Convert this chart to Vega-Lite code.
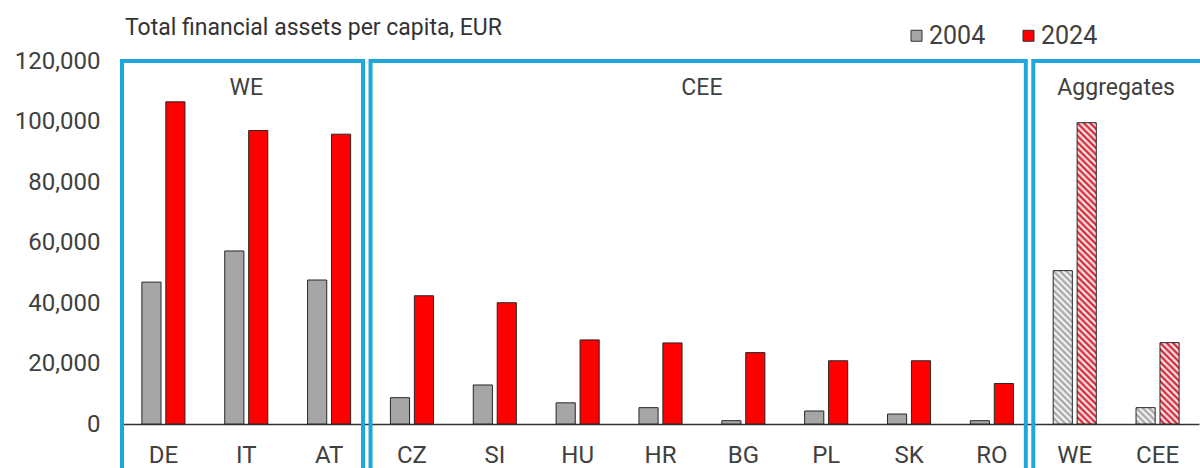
{
  "$schema": "https://vega.github.io/schema/vega-lite/v6.json",
  "width": 1077,
  "height": 363,
  "autosize": {"type": "none"},
  "padding": {"left": 122, "top": 61, "right": 1, "bottom": 44},
  "background": "white",
  "config": {"font": "Roboto", "view": {"stroke": null}},
  "title": {"text": "Total financial assets per capita, EUR", "anchor": "start", "frame": "group", "fontSize": 23, "fontWeight": "normal", "color": "#333333", "offset": 22, "dx": 3, "dy": 39},
  "datasets": {
    "bars": [
      {"cat": "DE", "year": "2004", "value": 46900}, {"cat": "DE", "year": "2024", "value": 106500},
      {"cat": "IT", "year": "2004", "value": 57200}, {"cat": "IT", "year": "2024", "value": 97000},
      {"cat": "AT", "year": "2004", "value": 47600}, {"cat": "AT", "year": "2024", "value": 95800},
      {"cat": "CZ", "year": "2004", "value": 8700}, {"cat": "CZ", "year": "2024", "value": 42400},
      {"cat": "SI", "year": "2004", "value": 12900}, {"cat": "SI", "year": "2024", "value": 40100},
      {"cat": "HU", "year": "2004", "value": 7000}, {"cat": "HU", "year": "2024", "value": 27800},
      {"cat": "HR", "year": "2004", "value": 5400}, {"cat": "HR", "year": "2024", "value": 26800},
      {"cat": "BG", "year": "2004", "value": 1100}, {"cat": "BG", "year": "2024", "value": 23600},
      {"cat": "PL", "year": "2004", "value": 4300}, {"cat": "PL", "year": "2024", "value": 20900},
      {"cat": "SK", "year": "2004", "value": 3300}, {"cat": "SK", "year": "2024", "value": 20900},
      {"cat": "RO", "year": "2004", "value": 1100}, {"cat": "RO", "year": "2024", "value": 13400},
      {"cat": "WE", "year": "2004", "value": 50700}, {"cat": "WE", "year": "2024", "value": 99600},
      {"cat": "CEE", "year": "2004", "value": 5400}, {"cat": "CEE", "year": "2024", "value": 26900}
    ],
    "boxes": [
      {"group": "WE", "start": 0, "end": 3, "mid": 1.5},
      {"group": "CEE", "start": 3, "end": 11, "mid": 7},
      {"group": "Aggregates", "start": 11, "end": 13.2, "mid": 12}
    ]
  },
  "layer": [
    {
      "data": {"name": "bars"},
      "encoding": {
        "x": {"field": "cat", "type": "nominal", "sort": null,
          "scale": {"domain": ["DE", "IT", "AT", "CZ", "SI", "HU", "HR", "BG", "PL", "SK", "RO", "WE", "CEE"], "paddingInner": 0.48, "paddingOuter": 0.24},
          "axis": {"title": null, "labelAngle": 0, "ticks": false, "domainColor": "#333333", "domainWidth": 1.3, "labelFontSize": 24, "labelColor": "#404040", "labelPadding": 19, "grid": false}},
        "xOffset": {"field": "year", "type": "nominal", "scale": {"domain": ["2004", "2024"], "paddingInner": 0.2, "paddingOuter": 0}},
        "y": {"field": "value", "type": "quantitative", "scale": {"domain": [0, 120000], "nice": false},
          "axis": {"title": null, "values": [0, 20000, 40000, 60000, 80000, 100000, 120000], "format": ",d", "ticks": false, "domain": false, "grid": false, "labelFontSize": 24, "labelColor": "#404040", "labelPadding": 22}}
      },
      "layer": [
        {
          "transform": [{"filter": "datum.cat !== 'WE' && datum.cat !== 'CEE'"}],
          "mark": {"type": "bar", "stroke": "#262626", "strokeWidth": 1},
          "encoding": {
            "color": {"field": "year", "type": "nominal", "scale": {"domain": ["2004", "2024"], "range": ["#a6a6a6", "#ff0000"]},
              "legend": {"orient": "none", "legendX": 782, "legendY": -38, "direction": "horizontal", "title": null, "symbolType": "square", "symbolSize": 121, "symbolStrokeColor": "#333333", "symbolStrokeWidth": 1, "labelFontSize": 25, "labelColor": "#404040", "labelOffset": 0, "columnPadding": 30}}
          }
        },
        {
          "transform": [{"filter": "datum.cat === 'WE' && datum.year === '2024'"}],
          "mark": {"type": "bar", "stroke": "#262626", "strokeWidth": 1,
            "fill": {"gradient": "linear", "x1": 1, "y1": 0, "x2": 0.9328, "y2": 1.0578, "stops": [
              {"offset": 0, "color": "#cf1020"}, {"offset": 0.01, "color": "#fff"}, {"offset": 0.02, "color": "#cf1020"}, {"offset": 0.03, "color": "#fff"}, {"offset": 0.04, "color": "#cf1020"}, {"offset": 0.05, "color": "#fff"}, {"offset": 0.06, "color": "#cf1020"}, {"offset": 0.07, "color": "#fff"}, {"offset": 0.08, "color": "#cf1020"}, {"offset": 0.09, "color": "#fff"},
              {"offset": 0.10, "color": "#cf1020"}, {"offset": 0.11, "color": "#fff"}, {"offset": 0.12, "color": "#cf1020"}, {"offset": 0.13, "color": "#fff"}, {"offset": 0.14, "color": "#cf1020"}, {"offset": 0.15, "color": "#fff"}, {"offset": 0.16, "color": "#cf1020"}, {"offset": 0.17, "color": "#fff"}, {"offset": 0.18, "color": "#cf1020"}, {"offset": 0.19, "color": "#fff"},
              {"offset": 0.20, "color": "#cf1020"}, {"offset": 0.21, "color": "#fff"}, {"offset": 0.22, "color": "#cf1020"}, {"offset": 0.23, "color": "#fff"}, {"offset": 0.24, "color": "#cf1020"}, {"offset": 0.25, "color": "#fff"}, {"offset": 0.26, "color": "#cf1020"}, {"offset": 0.27, "color": "#fff"}, {"offset": 0.28, "color": "#cf1020"}, {"offset": 0.29, "color": "#fff"},
              {"offset": 0.30, "color": "#cf1020"}, {"offset": 0.31, "color": "#fff"}, {"offset": 0.32, "color": "#cf1020"}, {"offset": 0.33, "color": "#fff"}, {"offset": 0.34, "color": "#cf1020"}, {"offset": 0.35, "color": "#fff"}, {"offset": 0.36, "color": "#cf1020"}, {"offset": 0.37, "color": "#fff"}, {"offset": 0.38, "color": "#cf1020"}, {"offset": 0.39, "color": "#fff"},
              {"offset": 0.40, "color": "#cf1020"}, {"offset": 0.41, "color": "#fff"}, {"offset": 0.42, "color": "#cf1020"}, {"offset": 0.43, "color": "#fff"}, {"offset": 0.44, "color": "#cf1020"}, {"offset": 0.45, "color": "#fff"}, {"offset": 0.46, "color": "#cf1020"}, {"offset": 0.47, "color": "#fff"}, {"offset": 0.48, "color": "#cf1020"}, {"offset": 0.49, "color": "#fff"},
              {"offset": 0.50, "color": "#cf1020"}, {"offset": 0.51, "color": "#fff"}, {"offset": 0.52, "color": "#cf1020"}, {"offset": 0.53, "color": "#fff"}, {"offset": 0.54, "color": "#cf1020"}, {"offset": 0.55, "color": "#fff"}, {"offset": 0.56, "color": "#cf1020"}, {"offset": 0.57, "color": "#fff"}, {"offset": 0.58, "color": "#cf1020"}, {"offset": 0.59, "color": "#fff"},
              {"offset": 0.60, "color": "#cf1020"}, {"offset": 0.61, "color": "#fff"}, {"offset": 0.62, "color": "#cf1020"}, {"offset": 0.63, "color": "#fff"}, {"offset": 0.64, "color": "#cf1020"}, {"offset": 0.65, "color": "#fff"}, {"offset": 0.66, "color": "#cf1020"}, {"offset": 0.67, "color": "#fff"}, {"offset": 0.68, "color": "#cf1020"}, {"offset": 0.69, "color": "#fff"},
              {"offset": 0.70, "color": "#cf1020"}, {"offset": 0.71, "color": "#fff"}, {"offset": 0.72, "color": "#cf1020"}, {"offset": 0.73, "color": "#fff"}, {"offset": 0.74, "color": "#cf1020"}, {"offset": 0.75, "color": "#fff"}, {"offset": 0.76, "color": "#cf1020"}, {"offset": 0.77, "color": "#fff"}, {"offset": 0.78, "color": "#cf1020"}, {"offset": 0.79, "color": "#fff"},
              {"offset": 0.80, "color": "#cf1020"}, {"offset": 0.81, "color": "#fff"}, {"offset": 0.82, "color": "#cf1020"}, {"offset": 0.83, "color": "#fff"}, {"offset": 0.84, "color": "#cf1020"}, {"offset": 0.85, "color": "#fff"}, {"offset": 0.86, "color": "#cf1020"}, {"offset": 0.87, "color": "#fff"}, {"offset": 0.88, "color": "#cf1020"}, {"offset": 0.89, "color": "#fff"},
              {"offset": 0.90, "color": "#cf1020"}, {"offset": 0.91, "color": "#fff"}, {"offset": 0.92, "color": "#cf1020"}, {"offset": 0.93, "color": "#fff"}, {"offset": 0.94, "color": "#cf1020"}, {"offset": 0.95, "color": "#fff"}, {"offset": 0.96, "color": "#cf1020"}, {"offset": 0.97, "color": "#fff"}, {"offset": 0.98, "color": "#cf1020"}, {"offset": 0.99, "color": "#fff"},
              {"offset": 1, "color": "#cf1020"}
            ]}}
        },
        {
          "transform": [{"filter": "datum.cat === 'WE' && datum.year === '2004'"}],
          "mark": {"type": "bar", "stroke": "#262626", "strokeWidth": 1,
            "fill": {"gradient": "linear", "x1": 1, "y1": 0, "x2": 0.7436, "y2": 2.054, "stops": [
              {"offset": 0, "color": "#9c9c9c"}, {"offset": 0.01, "color": "#fff"}, {"offset": 0.02, "color": "#9c9c9c"}, {"offset": 0.03, "color": "#fff"}, {"offset": 0.04, "color": "#9c9c9c"}, {"offset": 0.05, "color": "#fff"}, {"offset": 0.06, "color": "#9c9c9c"}, {"offset": 0.07, "color": "#fff"}, {"offset": 0.08, "color": "#9c9c9c"}, {"offset": 0.09, "color": "#fff"},
              {"offset": 0.10, "color": "#9c9c9c"}, {"offset": 0.11, "color": "#fff"}, {"offset": 0.12, "color": "#9c9c9c"}, {"offset": 0.13, "color": "#fff"}, {"offset": 0.14, "color": "#9c9c9c"}, {"offset": 0.15, "color": "#fff"}, {"offset": 0.16, "color": "#9c9c9c"}, {"offset": 0.17, "color": "#fff"}, {"offset": 0.18, "color": "#9c9c9c"}, {"offset": 0.19, "color": "#fff"},
              {"offset": 0.20, "color": "#9c9c9c"}, {"offset": 0.21, "color": "#fff"}, {"offset": 0.22, "color": "#9c9c9c"}, {"offset": 0.23, "color": "#fff"}, {"offset": 0.24, "color": "#9c9c9c"}, {"offset": 0.25, "color": "#fff"}, {"offset": 0.26, "color": "#9c9c9c"}, {"offset": 0.27, "color": "#fff"}, {"offset": 0.28, "color": "#9c9c9c"}, {"offset": 0.29, "color": "#fff"},
              {"offset": 0.30, "color": "#9c9c9c"}, {"offset": 0.31, "color": "#fff"}, {"offset": 0.32, "color": "#9c9c9c"}, {"offset": 0.33, "color": "#fff"}, {"offset": 0.34, "color": "#9c9c9c"}, {"offset": 0.35, "color": "#fff"}, {"offset": 0.36, "color": "#9c9c9c"}, {"offset": 0.37, "color": "#fff"}, {"offset": 0.38, "color": "#9c9c9c"}, {"offset": 0.39, "color": "#fff"},
              {"offset": 0.40, "color": "#9c9c9c"}, {"offset": 0.41, "color": "#fff"}, {"offset": 0.42, "color": "#9c9c9c"}, {"offset": 0.43, "color": "#fff"}, {"offset": 0.44, "color": "#9c9c9c"}, {"offset": 0.45, "color": "#fff"}, {"offset": 0.46, "color": "#9c9c9c"}, {"offset": 0.47, "color": "#fff"}, {"offset": 0.48, "color": "#9c9c9c"}, {"offset": 0.49, "color": "#fff"},
              {"offset": 0.50, "color": "#9c9c9c"}, {"offset": 0.51, "color": "#fff"}, {"offset": 0.52, "color": "#9c9c9c"}, {"offset": 0.53, "color": "#fff"}, {"offset": 0.54, "color": "#9c9c9c"}, {"offset": 0.55, "color": "#fff"}, {"offset": 0.56, "color": "#9c9c9c"}
            ]}}
        },
        {
          "transform": [{"filter": "datum.cat === 'CEE' && datum.year === '2024'"}],
          "mark": {"type": "bar", "stroke": "#262626", "strokeWidth": 1,
            "fill": {"gradient": "linear", "x1": 1, "y1": 0, "x2": 0.1237, "y2": 3.725, "stops": [
              {"offset": 0, "color": "#cf1020"}, {"offset": 0.01, "color": "#fff"}, {"offset": 0.02, "color": "#cf1020"}, {"offset": 0.03, "color": "#fff"}, {"offset": 0.04, "color": "#cf1020"}, {"offset": 0.05, "color": "#fff"}, {"offset": 0.06, "color": "#cf1020"}, {"offset": 0.07, "color": "#fff"}, {"offset": 0.08, "color": "#cf1020"}, {"offset": 0.09, "color": "#fff"},
              {"offset": 0.10, "color": "#cf1020"}, {"offset": 0.11, "color": "#fff"}, {"offset": 0.12, "color": "#cf1020"}, {"offset": 0.13, "color": "#fff"}, {"offset": 0.14, "color": "#cf1020"}, {"offset": 0.15, "color": "#fff"}, {"offset": 0.16, "color": "#cf1020"}, {"offset": 0.17, "color": "#fff"}, {"offset": 0.18, "color": "#cf1020"}, {"offset": 0.19, "color": "#fff"},
              {"offset": 0.20, "color": "#cf1020"}, {"offset": 0.21, "color": "#fff"}, {"offset": 0.22, "color": "#cf1020"}, {"offset": 0.23, "color": "#fff"}, {"offset": 0.24, "color": "#cf1020"}, {"offset": 0.25, "color": "#fff"}, {"offset": 0.26, "color": "#cf1020"}, {"offset": 0.27, "color": "#fff"}, {"offset": 0.28, "color": "#cf1020"}, {"offset": 0.29, "color": "#fff"},
              {"offset": 0.30, "color": "#cf1020"}, {"offset": 0.31, "color": "#fff"}, {"offset": 0.32, "color": "#cf1020"}
            ]}}
        },
        {
          "transform": [{"filter": "datum.cat === 'CEE' && datum.year === '2004'"}],
          "mark": {"type": "bar", "stroke": "#262626", "strokeWidth": 1,
            "fill": {"gradient": "linear", "x1": 1, "y1": 0, "x2": -8.69, "y2": 8.248, "stops": [
              {"offset": 0, "color": "#9c9c9c"}, {"offset": 0.01, "color": "#fff"}, {"offset": 0.02, "color": "#9c9c9c"}, {"offset": 0.03, "color": "#fff"}, {"offset": 0.04, "color": "#9c9c9c"}, {"offset": 0.05, "color": "#fff"}, {"offset": 0.06, "color": "#9c9c9c"}, {"offset": 0.07, "color": "#fff"}, {"offset": 0.08, "color": "#9c9c9c"}, {"offset": 0.09, "color": "#fff"},
              {"offset": 0.10, "color": "#9c9c9c"}, {"offset": 0.11, "color": "#fff"}, {"offset": 0.12, "color": "#9c9c9c"}
            ]}}
        }
      ]
    },
    {
      "data": {"name": "boxes"},
      "layer": [
        {
          "mark": {"type": "rect", "filled": false, "stroke": "#1ea7dc", "strokeWidth": 4, "x2Offset": -7.5, "clip": false},
          "encoding": {
            "x": {"field": "start", "type": "quantitative", "scale": {"domain": [0, 13], "nice": false, "zero": false}, "axis": null},
            "x2": {"field": "end"},
            "y": {"datum": 120000, "type": "quantitative", "axis": null},
            "y2": {"datum": -16000}
          }
        },
        {
          "mark": {"type": "text", "fontSize": 23, "fill": "#404040", "align": "center", "baseline": "middle"},
          "encoding": {
            "x": {"field": "mid", "type": "quantitative"},
            "y": {"datum": 111000, "type": "quantitative", "axis": null},
            "text": {"field": "group"}
          }
        }
      ]
    }
  ],
  "resolve": {"scale": {"x": "independent"}, "axis": {"y": "independent"}}
}
